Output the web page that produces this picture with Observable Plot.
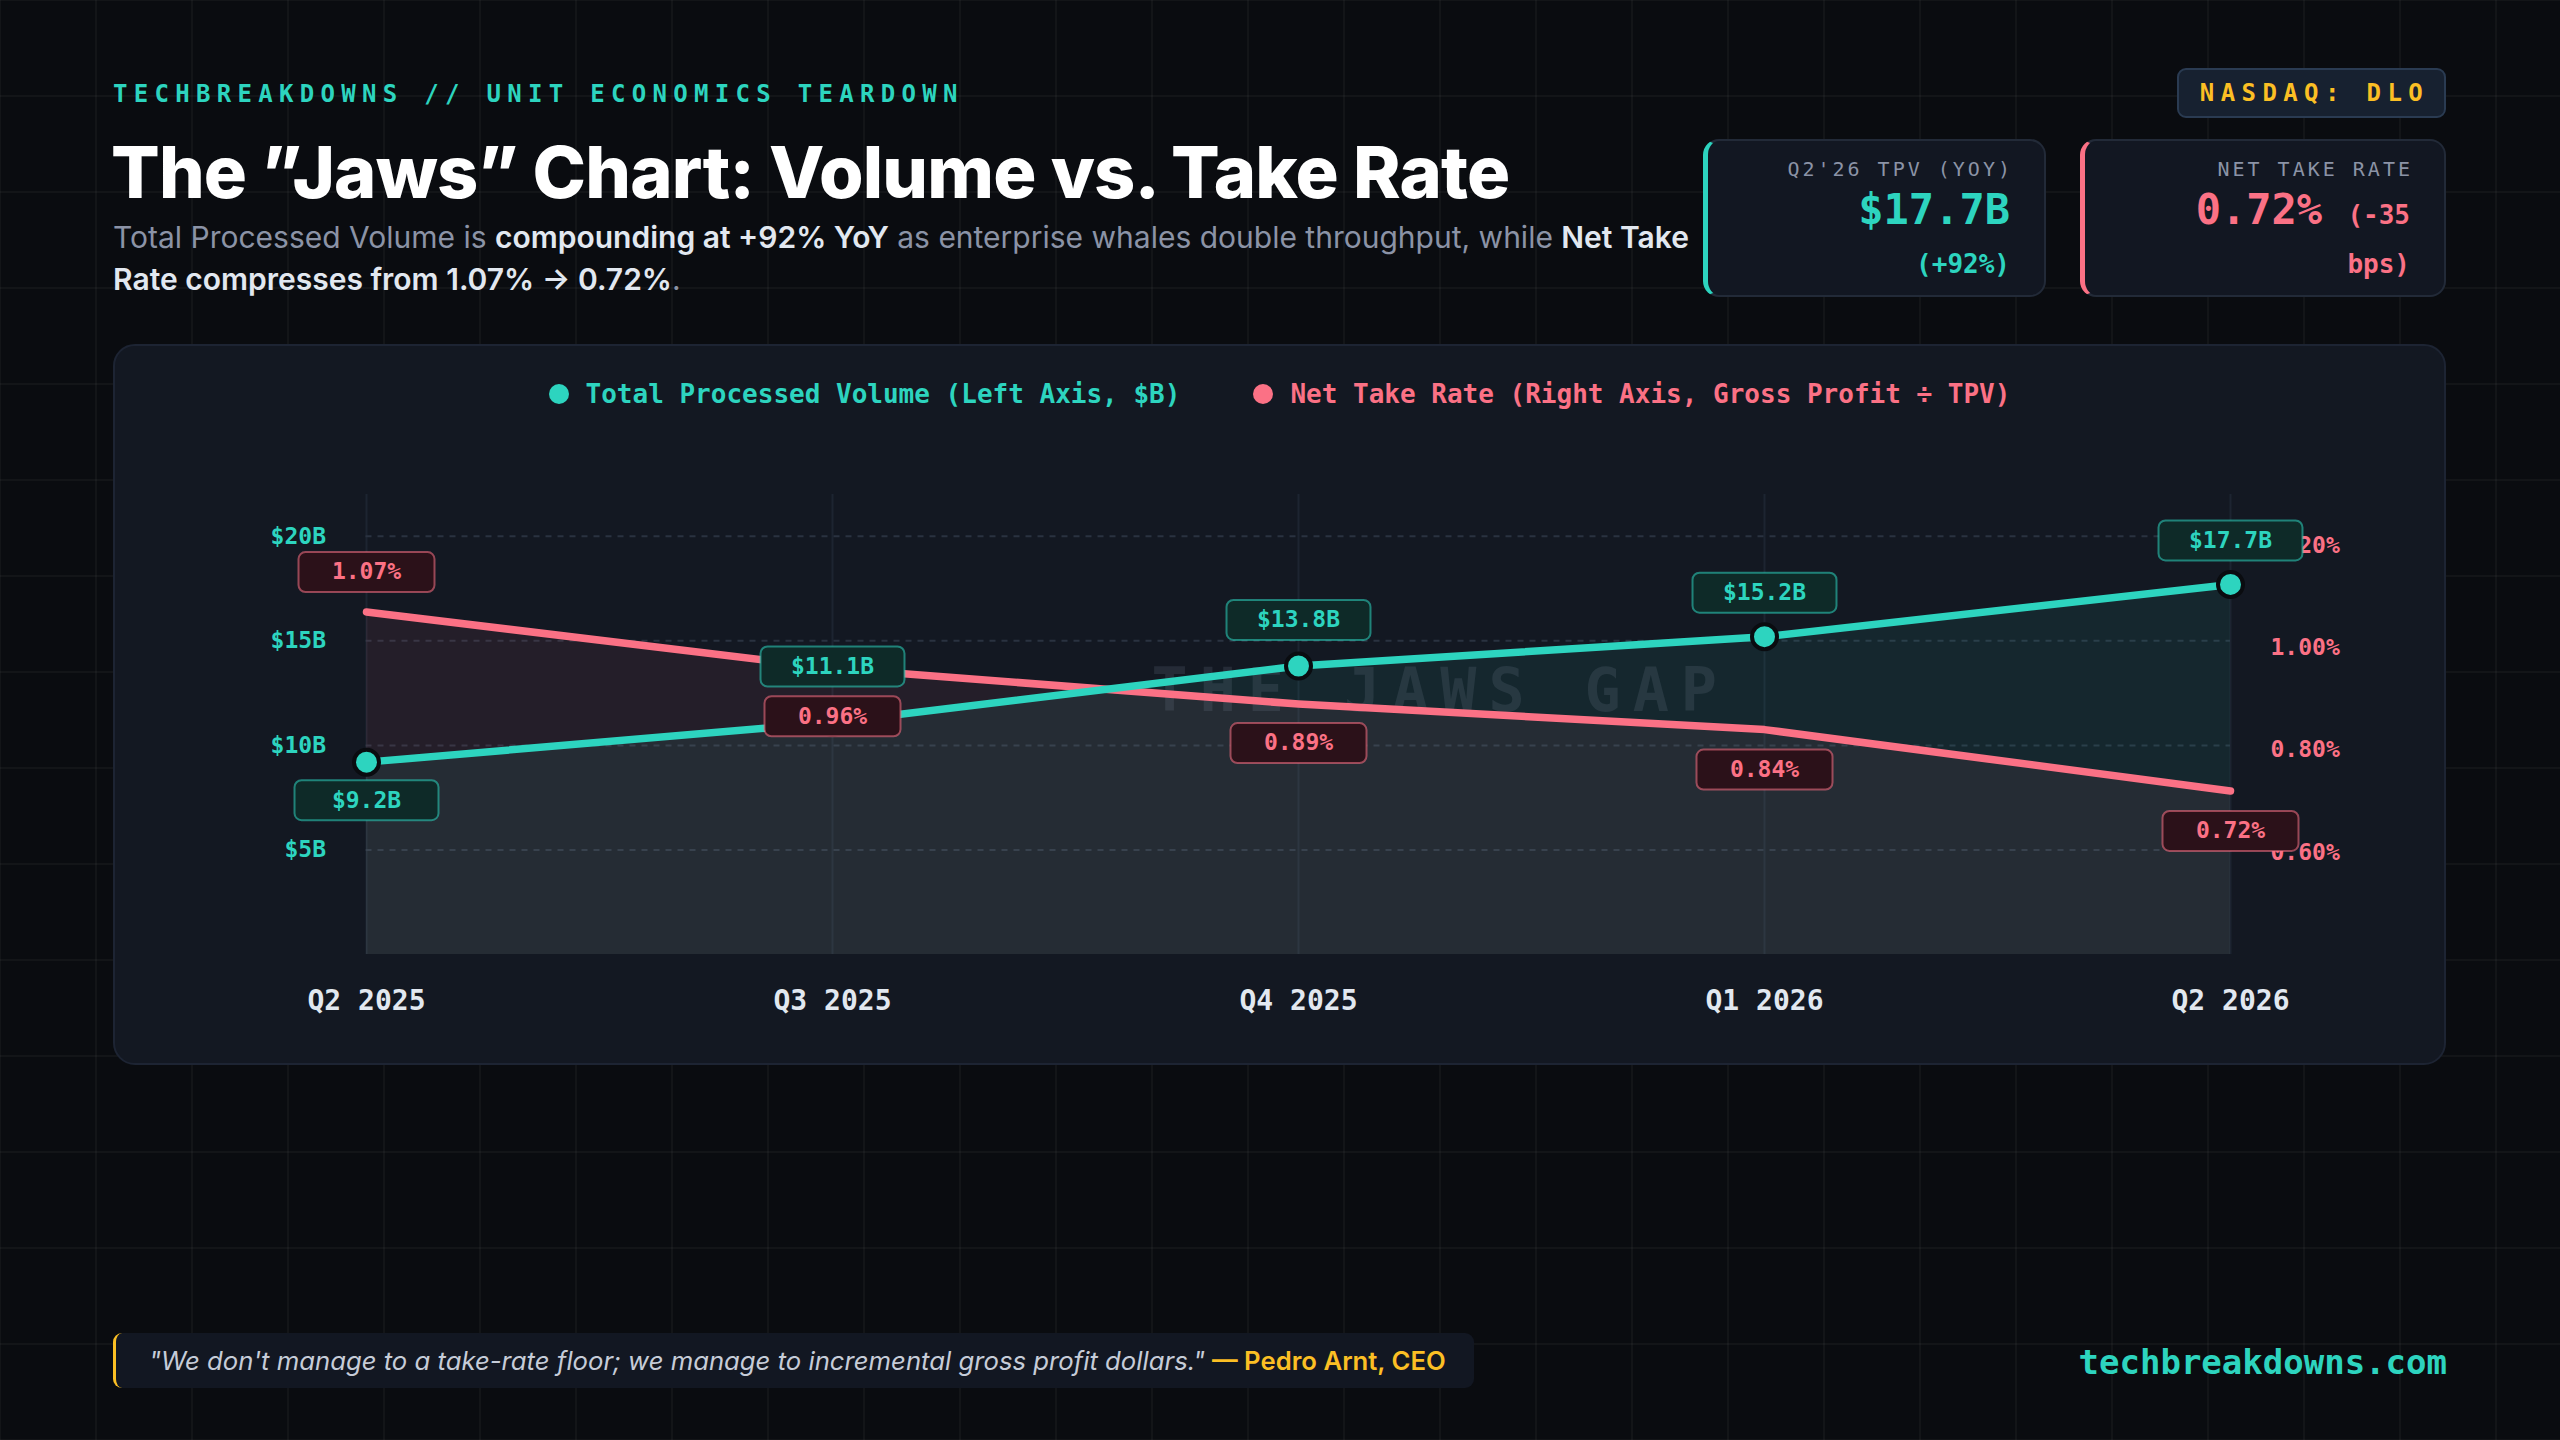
<!DOCTYPE html>
<html>
<head>
<meta charset="utf-8">
<script src="https://cdn.jsdelivr.net/npm/d3@7"></script>
<script src="https://cdn.jsdelivr.net/npm/@observablehq/plot@0.6"></script>
<style>
  html, body { margin:0; padding:0; }
  body {
    width:2560px; height:1440px; position:relative; overflow:hidden;
    background-color:#0a0c10;
    background-image:
      linear-gradient(rgba(255,255,255,0.035) 2px, transparent 2px),
      linear-gradient(90deg, rgba(255,255,255,0.035) 2px, transparent 2px);
    background-size:96px 96px;
    background-position:-1px -1px;
    font-family:Inter, "Noto Sans", sans-serif;
  }
  .mono { font-family:"DejaVu Sans Mono", "Liberation Mono", monospace; }
  .abs { position:absolute; }
  #tagline { left:113px; top:82px; font-size:24px; line-height:24px; letter-spacing:6.3px; color:#2dd4bf; font-weight:700; white-space:nowrap; }
  #title { left:111px; top:140px; font-size:72px; line-height:64px; font-weight:800; color:#ffffff; white-space:nowrap; letter-spacing:-0.8px; }
  #subtitle { left:113px; top:216px; width:1600px; font-size:30px; line-height:42px; color:#8b93a6; }
  #subtitle b { color:#e2e8f0; font-weight:600; }
  #ticker { left:2177px; top:68px; width:269px; height:50px; box-sizing:border-box; background:#172130; border:2px solid #2a3b52; border-radius:9px;
    display:flex; align-items:center; justify-content:center; color:#fbbf24; font-size:24px; font-weight:700; letter-spacing:6.4px; padding-left:6px; }
  .card { top:139px; height:158px; box-sizing:border-box; background:#121722; border:2px solid #222a38; border-radius:16px; }
  .card .ln { position:absolute; right:34px; white-space:nowrap; text-align:right; }
  .card .lab { font-size:20px; line-height:20px; letter-spacing:3px; color:#8b93a6; top:18px; right:31px; }
  .card .big { font-size:42px; line-height:42px; font-weight:700; top:48px; }
  .card .small { font-size:26px; line-height:26px; font-weight:700; }
  #panel { left:113px; top:344px; width:2333px; height:721px; box-sizing:border-box; background:#131822; border:2px solid #1d2433; border-radius:22px; }
  #legend { left:113px; width:2333px; top:381px; height:26px; display:flex; justify-content:center; align-items:center; gap:0; font-size:26px; line-height:26px; font-weight:700; }
  .lg { display:flex; align-items:center; white-space:nowrap; }
  .lg i { display:inline-block; width:20px; height:20px; border-radius:50%; margin-right:17px; }
  #chart { left:113px; top:440px; }
  #quote { left:113px; top:1333px; width:1361px; height:55px; box-sizing:border-box; background:#121722; border-left:3px solid #fbbf24; border-radius:9px;
    display:flex; align-items:center; padding-left:33px; font-size:25.7px; color:#c6ccd8; white-space:nowrap; }
  #quote em { font-style:italic; }
  #quote span { color:#fbbf24; font-weight:600; margin-left:7px; }
  #site { right:113px; top:1341px; font-size:34px; line-height:42px; font-weight:700; color:#2dd4bf; }
</style>
</head>
<body>
<div id="tagline" class="abs mono">TECHBREAKDOWNS // UNIT ECONOMICS TEARDOWN</div>
<div id="title" class="abs">The ”Jaws” Chart: Volume vs. Take Rate</div>
<div id="subtitle" class="abs">Total Processed Volume is <b>compounding at +92% YoY</b> as enterprise whales double throughput, while <b>Net Take</b> <b>Rate compresses from 1.07% → 0.72%</b>.</div>
<div id="ticker" class="abs mono">NASDAQ: DLO</div>

<div class="card abs" style="left:1703px;width:343px;border-left:5px solid #2dd4bf;">
  <div class="ln lab mono">Q2'26 TPV (YOY)</div>
  <div class="ln big mono" style="color:#2dd4bf">$17.7B</div>
  <div class="ln small mono" style="color:#2dd4bf;top:110px">(+92%)</div>
</div>
<div class="card abs" style="left:2080px;width:366px;border-left:5px solid #fb7185;">
  <div class="ln lab mono">NET TAKE RATE</div>
  <div class="ln big mono" style="color:#fb7185">0.72% <span class="small">(-35</span></div>
  <div class="ln small mono" style="color:#fb7185;top:110px">bps)</div>
</div>

<div id="panel" class="abs"></div>
<div id="legend" class="abs mono">
  <div class="lg" style="color:#2dd4bf"><i style="background:#2dd4bf"></i>Total Processed Volume (Left Axis, $B)</div>
  <div class="lg" style="color:#fb7185;margin-left:73px"><i style="background:#fb7185"></i>Net Take Rate (Right Axis, Gross Profit ÷ TPV)</div>
</div>
<div id="chart" class="abs"></div>

<div id="quote" class="abs"><em>"We don't manage to a take-rate floor; we manage to incremental gross profit dollars."</em><span>— Pedro Arnt, CEO</span></div>
<div id="site" class="abs mono">techbreakdowns.com</div>

<script>
// ---- data ----
const quarters = ["Q2 2025", "Q3 2025", "Q4 2025", "Q1 2026", "Q2 2026"];
const tpv = [9.2, 11.1, 13.8, 15.2, 17.7];            // $B, left axis
const takeRate = [1.07, 0.96, 0.89, 0.84, 0.72];      // %, right axis
const tpvTicks = [5, 10, 15, 20];
const rateTicks = [0.6, 0.8, 1.0, 1.2];
const tpvDomain = [0, 22];
const rateDomain = [0.4, 1.3];

// ---- layout constants (not data) ----
const TEAL = "#2dd4bf", PINK = "#fb7185";
const tpvLabelDy = [38, -56, -46, -44, -44];
const rateLabelDy = [-40, 48, 39, 40, 40];

// map a take-rate value onto the left (TPV) scale
const toLeft = r => (r - rateDomain[0]) / (rateDomain[1] - rateDomain[0]) * (tpvDomain[1] - tpvDomain[0]) + tpvDomain[0];
const fromLeft = v => (v - tpvDomain[0]) / (tpvDomain[1] - tpvDomain[0]) * (rateDomain[1] - rateDomain[0]) + rateDomain[0];

const rows = quarters.map((q, i) => ({ q, tpv: tpv[i], rate: takeRate[i], rateY: toLeft(takeRate[i]) }));

function roundRect(w, h, r) {
  return { draw(ctx) {
    const x0 = -w / 2, y0 = -h / 2, x1 = w / 2, y1 = h / 2;
    ctx.moveTo(x0 + r, y0);
    ctx.lineTo(x1 - r, y0); ctx.arcTo(x1, y0, x1, y0 + r, r);
    ctx.lineTo(x1, y1 - r); ctx.arcTo(x1, y1, x1 - r, y1, r);
    ctx.lineTo(x0 + r, y1); ctx.arcTo(x0, y1, x0, y1 - r, r);
    ctx.lineTo(x0, y0 + r); ctx.arcTo(x0, y0, x0 + r, y0, r);
    ctx.closePath();
  }};
}

function labelMarks(yField, fmt, dys, color, boxFill, boxW) {
  const marks = [];
  rows.forEach((d, i) => {
    marks.push(Plot.dot([d], { x: "q", y: yField, r: 10, symbol: roundRect(boxW, 40, 7), fill: boxFill, stroke: color, strokeOpacity: 0.55, strokeWidth: 2, dy: dys[i] }));
    marks.push(Plot.text([d], { x: "q", y: yField, text: fmt, dy: dys[i], fill: color, fontSize: 23, fontWeight: 700, fontFamily: "DejaVu Sans Mono" }));
  });
  return marks;
}

const chart = Plot.plot({
  width: 2333,
  height: 620,
  marginLeft: 252.5,
  marginRight: 216,
  marginTop: 54,
  marginBottom: 106,
  style: { background: "transparent", fontFamily: "DejaVu Sans Mono", overflow: "visible" },
  x: { type: "point", domain: quarters, padding: 0 },
  y: { domain: tpvDomain },
  marks: [
    Plot.gridX(quarters, { stroke: "#1d2431", strokeOpacity: 1, strokeWidth: 2 }),
    Plot.gridY(tpvTicks, { stroke: "#2a3240", strokeOpacity: 1, strokeWidth: 2, strokeDasharray: "6,6" }),
    Plot.areaY(rows, { x: "q", y: "rateY", fill: PINK, fillOpacity: 0.075 }),
    Plot.areaY(rows, { x: "q", y: "tpv", fill: TEAL, fillOpacity: 0.08 }),
    Plot.text(["THE JAWS GAP"], { text: d => d, frameAnchor: "middle", dx: 142, dy: -33, fontSize: 60, fontWeight: 700, fill: "#94a3b8", fillOpacity: 0.14, fontFamily: "DejaVu Sans Mono" }),
    Plot.lineY(rows, { x: "q", y: "rateY", stroke: PINK, strokeWidth: 7.5 }),
    Plot.lineY(rows, { x: "q", y: "tpv", stroke: TEAL, strokeWidth: 7.5 }),
    Plot.dot(rows, { x: "q", y: "tpv", r: 12.5, fill: TEAL, stroke: "#0a0c10", strokeWidth: 4 }),
    Plot.axisY({ ticks: tpvTicks, tickFormat: d => `$${d}B`, tickSize: 0, tickPadding: 40, fill: TEAL, fontSize: 23, fontWeight: 600, label: null }),
    Plot.axisY({ anchor: "right", ticks: rateTicks.map(toLeft), tickFormat: d => fromLeft(d).toFixed(2) + "%", tickSize: 0, tickPadding: 40, fill: PINK, fontSize: 23, fontWeight: 600, label: null }),
    Plot.axisX({ tickSize: 0, tickPadding: 36, fill: "#e2e8f0", fontSize: 28, fontWeight: 700, label: null }),
    ...labelMarks("tpv", d => `$${d.tpv.toFixed(1)}B`, tpvLabelDy, TEAL, "#0e2a28", 144),
    ...labelMarks("rateY", d => `${d.rate.toFixed(2)}%`, rateLabelDy, PINK, "#2b1119", 136)
  ]
});

d3.select(chart).selectAll("text").filter(function () { return this.textContent === "THE JAWS GAP"; }).style("letter-spacing", "12px");
document.getElementById("chart").appendChild(chart);
</script>
</body>
</html>
